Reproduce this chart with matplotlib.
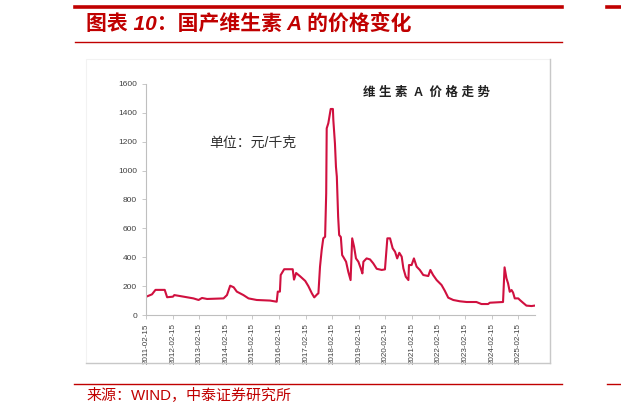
import matplotlib
matplotlib.use("Agg")
import matplotlib.pyplot as plt
import matplotlib.dates as mdates
from matplotlib.lines import Line2D
from matplotlib.patches import Rectangle
import pandas as pd

plt.rcParams['font.family'] = ['Liberation Sans', 'Noto Sans CJK SC', 'DejaVu Sans']

# ---- data ----
dates = [
    "2011-02-20", "2011-05-08", "2011-06-25", "2011-10-30", "2011-12-02",
    "2012-02-20", "2012-03-10", "2012-07-15", "2012-11-28", "2013-02-06",
    "2013-03-25", "2013-06-03", "2014-01-15", "2014-03-03", "2014-04-16",
    "2014-06-03", "2014-07-16", "2014-10-15", "2014-12-24", "2015-04-16",
    "2015-10-15", "2016-01-15", "2016-01-30", "2016-02-28", "2016-03-10",
    "2016-04-27", "2016-08-22", "2016-09-09", "2016-10-08", "2016-12-02",
    "2017-02-10", "2017-03-25", "2017-05-12", "2017-06-14", "2017-07-27",
    "2017-08-10", "2017-09-01", "2017-09-24", "2017-10-16", "2017-11-10",
    "2017-11-25", "2017-12-02", "2017-12-24", "2018-01-08", "2018-01-26",
    "2018-02-25", "2018-03-03", "2018-03-25", "2018-04-08", "2018-04-20",
    "2018-05-08", "2018-05-22", "2018-06-14", "2018-07-02", "2018-07-16",
    "2018-08-25", "2018-09-24", "2018-10-26", "2018-11-17", "2018-12-13",
    "2019-01-08", "2019-02-10", "2019-03-15", "2019-04-06", "2019-04-20",
    "2019-06-03", "2019-07-20", "2019-09-02", "2019-10-20", "2019-12-28",
    "2020-02-10", "2020-03-14", "2020-04-20", "2020-05-26", "2020-06-28",
    "2020-07-27", "2020-08-25", "2020-09-27", "2020-10-20", "2020-11-22",
    "2020-12-28", "2021-01-05", "2021-02-10", "2021-03-14", "2021-04-20",
    "2021-06-03", "2021-07-20", "2021-09-27", "2021-10-26", "2021-12-02",
    "2022-01-20", "2022-03-28", "2022-05-12", "2022-06-28", "2022-09-05",
    "2022-12-05", "2023-03-08", "2023-07-20", "2023-09-27", "2023-12-28",
    "2024-01-20", "2024-07-20", "2024-08-10", "2024-09-05", "2024-09-27",
    "2024-10-20", "2024-11-14", "2024-12-05", "2024-12-28", "2025-02-14",
    "2025-03-08", "2025-04-20", "2025-06-06", "2025-08-15", "2025-09-27",
]
prices = [
    127, 143, 174, 174, 123,
    127, 138, 127, 115, 104,
    118, 111, 115, 138, 203,
    192, 162, 138, 115, 104,
    100, 92, 162, 162, 277,
    317, 317, 245, 291, 268,
    236, 200, 150, 122, 145,
    150, 335, 450, 531, 542,
    843, 1293, 1328, 1373, 1427,
    1427, 1350, 1189, 1027, 958,
    681, 554, 540, 415, 404,
    369, 300, 242, 531, 473,
    392, 369, 323, 288, 369,
    392, 385, 358, 320, 312,
    316, 531, 531, 462, 438,
    392, 431, 404, 323, 265,
    242, 346, 346, 392, 335,
    312, 277, 270, 312, 277,
    242, 208, 168, 120, 104,
    95, 90, 90, 76, 76,
    85, 90, 330, 254, 219,
    161, 173, 155, 115, 115,
    104, 85, 65, 62, 65,
]
tick_dates = [f"{y}-02-15" for y in range(2011, 2026)]
y_ticks = [0, 200, 400, 600, 800, 1000, 1200, 1400, 1600]

title_text = "图表 10：国产维生素 A 的价格变化"
chart_title = "维 生 素  A  价 格 走 势"
unit_text = "单位：元/千克"
source_text = "来源：WIND，中泰证券研究所"

# ---- figure ----
W, H = 621, 415
fig = plt.figure(figsize=(W / 100, H / 100), dpi=100)
fig.patch.set_facecolor("white")

def fx(px):
    return px / W

def fy(py):
    return 1 - py / H

RED = "#C00000"

# header lines
fig.add_artist(Line2D([fx(75), fx(562)], [fy(7.5), fy(7.5)], color=RED, lw=2.6))
fig.add_artist(Line2D([fx(607), fx(621)], [fy(7.5), fy(7.5)], color=RED, lw=2.6))
fig.add_artist(Line2D([fx(75), fx(562)], [fy(42), fy(42)], color=RED, lw=1.0))
fig.text(fx(86), fy(24), title_text, color=RED, fontsize=15, fontweight="bold",
         style="italic", ha="left", va="center")

# chart frame
fig.add_artist(Rectangle((fx(86), fy(363)), fx(550) - fx(86), fy(59) - fy(363),
                         facecolor="white", edgecolor="#F2F2F2", lw=0.8, zorder=0))
fig.add_artist(Line2D([fx(550), fx(550)], [fy(59), fy(363)], color="#C8C8C8", lw=1.0))
fig.add_artist(Line2D([fx(86), fx(550)], [fy(363), fy(363)], color="#C8C8C8", lw=1.0))

# footer
fig.add_artist(Line2D([fx(74), fx(562)], [fy(384), fy(384)], color=RED, lw=1.0))
fig.add_artist(Line2D([fx(607), fx(621)], [fy(384), fy(384)], color=RED, lw=1.0))
fig.text(fx(86), fy(395), source_text, color=RED, fontsize=10.8,
         ha="left", va="center")

# axes
ax = fig.add_axes([fx(145.5), fy(315), fx(535) - fx(145.5), fy(84) - fy(315)])
ax.set_facecolor("none")
x = pd.to_datetime(dates)
ax.plot(x, prices, color="#D0103F", lw=1.5, solid_joinstyle="round")

ax.set_ylim(0, 1600)
ax.set_yticks(y_ticks)
ax.set_xlim(pd.Timestamp("2011-02-08"), pd.Timestamp("2025-10-02"))
ax.set_xticks(pd.to_datetime(tick_dates))
ax.xaxis.set_major_formatter(mdates.DateFormatter("%Y-%m-%d"))

for side in ["top", "right"]:
    ax.spines[side].set_visible(False)
for side in ["left", "bottom"]:
    ax.spines[side].set_color("#BFBFBF")
    ax.spines[side].set_linewidth(0.8)

ax.tick_params(axis="y", length=3, width=0.6, color="#BFBFBF", pad=3,
               labelsize=6, labelcolor="#404040")
ax.tick_params(axis="x", length=3, width=0.6, color="#BFBFBF", pad=3,
               labelsize=5.8, labelcolor="#404040", rotation=90)

fig.text(fx(426), fy(93), chart_title, fontsize=9, fontweight="bold",
         color="#202020", ha="center", va="center")
fig.text(fx(253), fy(143), unit_text, fontsize=10, color="#303030",
         ha="center", va="center")

fig.savefig("out.png", dpi=100)
